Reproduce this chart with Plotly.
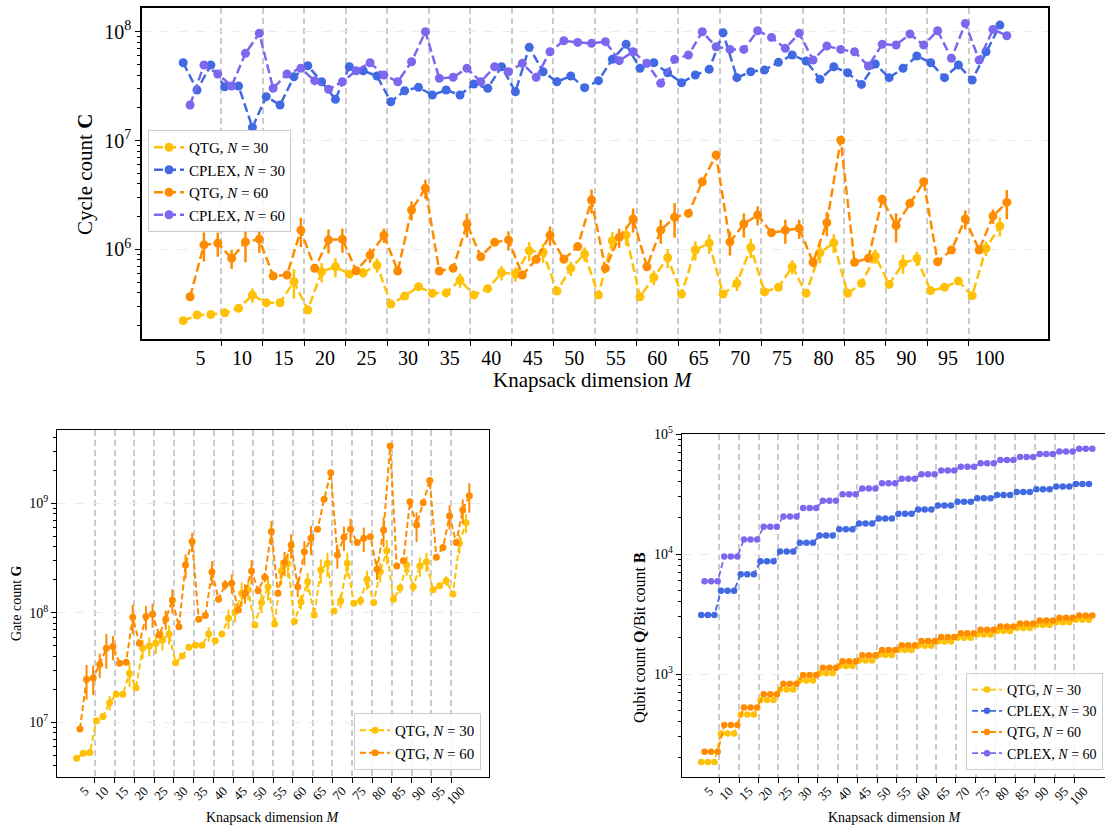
import plotly.graph_objects as go

# ---------------- data ----------------
M_labels = [5, 10, 15, 20, 25, 30, 35, 40, 45, 50, 55, 60, 65, 70, 75, 80, 85, 90, 95, 100]
instances_per_M = 3

cycle_qtg30 = [2.21e5, 2.49e5, 2.52e5, 2.61e5, 2.87e5, 3.80e5, 3.23e5, 3.23e5, 5.04e5, 2.77e5,
               6.22e5, 6.92e5, 5.93e5, 6.09e5, 7.17e5, 3.14e5, 3.72e5, 4.54e5, 3.94e5, 3.98e5,
               5.22e5, 3.80e5, 4.35e5, 6.09e5, 5.93e5, 9.70e5, 9.40e5, 4.14e5, 6.69e5, 9.04e5,
               3.80e5, 1.20e6, 1.35e6, 3.67e5, 5.53e5, 8.37e5, 3.88e5, 9.86e5, 1.14e6, 3.88e5,
               4.87e5, 1.04e6, 4.06e5, 4.48e5, 6.92e5, 3.94e5, 9.30e5, 1.15e6, 3.94e5, 4.87e5,
               8.67e5, 4.76e5, 7.43e5, 8.25e5, 4.17e5, 4.48e5, 5.11e5, 3.75e5, 1.02e6, 1.64e6]
cycle_qtg30_err = [0.03, 0.03, 0.03, 0.03, 0.03, 0.15, 0.03, 0.03, 0.30, 0.03,
                   0.20, 0.20, 0.05, 0.10, 0.15, 0.03, 0.05, 0.05, 0.05, 0.03,
                   0.15, 0.03, 0.05, 0.15, 0.15, 0.20, 0.20, 0.03, 0.15, 0.15,
                   0.03, 0.20, 0.20, 0.03, 0.15, 0.20, 0.03, 0.20, 0.20, 0.03,
                   0.15, 0.20, 0.03, 0.05, 0.15, 0.03, 0.20, 0.20, 0.03, 0.05,
                   0.15, 0.05, 0.20, 0.15, 0.03, 0.05, 0.05, 0.03, 0.15, 0.20]
cycle_cplex30 = [5.19e7, 2.91e7, 4.94e7, 3.12e7, 3.17e7, 1.32e7, 2.53e7, 2.12e7, 3.86e7, 4.87e7,
                 3.47e7, 2.39e7, 4.77e7, 4.38e7, 3.92e7, 2.27e7, 2.87e7, 3.08e7, 2.62e7, 2.91e7,
                 2.62e7, 3.31e7, 3.02e7, 4.77e7, 2.81e7, 7.19e7, 4.29e7, 3.47e7, 3.92e7, 3.06e7,
                 3.55e7, 5.57e7, 7.66e7, 4.61e7, 5.19e7, 4.20e7, 3.40e7, 4.00e7, 4.51e7, 9.79e7,
                 3.78e7, 4.29e7, 4.45e7, 5.23e7, 6.11e7, 5.38e7, 3.65e7, 4.77e7, 4.20e7, 3.28e7,
                 5.05e7, 3.78e7, 4.61e7, 5.98e7, 5.19e7, 3.78e7, 4.94e7, 3.60e7, 6.55e7, 1.15e8]
cycle_qtg60 = [3.67e5, 1.10e6, 1.14e6, 8.26e5, 1.17e6, 1.24e6, 5.69e5, 5.81e5, 1.50e6, 6.69e5,
               1.22e6, 1.24e6, 6.36e5, 8.85e5, 1.35e6, 6.32e5, 2.30e6, 3.64e6, 6.32e5, 6.69e5,
               1.71e6, 8.55e5, 1.16e6, 1.22e6, 5.81e5, 8.09e5, 1.35e6, 8.09e5, 1.06e6, 2.84e6,
               6.69e5, 1.29e6, 1.90e6, 6.92e5, 1.50e6, 1.97e6, 2.14e6, 4.18e6, 7.36e6, 1.17e6,
               1.71e6, 2.07e6, 1.42e6, 1.50e6, 1.56e6, 7.59e5, 1.76e6, 1.01e7, 7.59e5, 8.26e5,
               2.88e6, 1.65e6, 2.65e6, 4.18e6, 7.69e5, 9.86e5, 1.90e6, 9.86e5, 2.02e6, 2.70e6]
cycle_qtg60_err = [0.05, 0.30, 0.25, 0.20, 0.35, 0.25, 0.05, 0.05, 0.30, 0.05,
                   0.25, 0.25, 0.05, 0.15, 0.15, 0.05, 0.20, 0.20, 0.05, 0.05,
                   0.25, 0.05, 0.05, 0.20, 0.05, 0.05, 0.20, 0.05, 0.05, 0.25,
                   0.05, 0.20, 0.25, 0.05, 0.25, 0.35, 0.05, 0.05, 0.05, 0.25,
                   0.25, 0.20, 0.05, 0.25, 0.20, 0.10, 0.25, 0.05, 0.05, 0.05,
                   0.10, 0.30, 0.05, 0.05, 0.05, 0.05, 0.20, 0.05, 0.15, 0.30]
cycle_cplex60 = [2.12e7, 4.94e7, 4.09e7, 3.17e7, 6.33e7, 9.67e7, 3.02e7, 4.09e7, 4.61e7, 3.55e7,
                 2.96e7, 3.47e7, 4.38e7, 5.19e7, 4.00e7, 3.47e7, 5.30e7, 1.00e8, 3.73e7, 3.81e7,
                 4.61e7, 3.47e7, 4.77e7, 4.29e7, 5.12e7, 3.81e7, 6.55e7, 8.26e7, 7.98e7, 7.82e7,
                 8.10e7, 5.42e7, 6.55e7, 5.12e7, 3.36e7, 5.57e7, 6.11e7, 1.00e8, 7.28e7, 6.88e7,
                 6.88e7, 1.02e8, 8.87e7, 7.03e7, 9.67e7, 5.50e7, 7.39e7, 6.88e7, 6.55e7, 4.84e7,
                 7.66e7, 7.55e7, 9.52e7, 7.55e7, 1.02e8, 5.69e7, 1.19e8, 5.50e7, 1.05e8, 9.19e7]

gate_qtg30 = [4.69e6, 5.21e6, 5.28e6, 1.03e7, 1.13e7, 1.51e7, 1.80e7, 1.80e7, 2.80e7, 2.07e7,
              4.74e7, 4.98e7, 5.26e7, 5.64e7, 6.40e7, 3.50e7, 4.03e7, 4.84e7, 5.05e7, 5.05e7,
              6.40e7, 5.56e7, 6.40e7, 8.91e7, 1.02e8, 1.51e8, 1.62e8, 7.74e7, 1.24e8, 1.73e8,
              7.91e7, 2.40e8, 2.80e8, 8.30e7, 1.26e8, 1.92e8, 9.55e7, 2.46e8, 2.83e8, 1.04e8,
              1.29e8, 2.83e8, 1.22e8, 1.29e8, 2.02e8, 1.24e8, 2.37e8, 3.69e8, 1.33e8, 1.68e8,
              2.73e8, 1.73e8, 2.67e8, 2.93e8, 1.62e8, 1.76e8, 1.96e8, 1.48e8, 4.31e8, 6.65e8]
gate_qtg30_err = [0.03, 0.03, 0.03, 0.05, 0.05, 0.15, 0.05, 0.05, 0.25, 0.05,
                  0.20, 0.20, 0.20, 0.20, 0.20, 0.05, 0.05, 0.05, 0.05, 0.05,
                  0.15, 0.05, 0.05, 0.20, 0.20, 0.25, 0.20, 0.05, 0.20, 0.25,
                  0.05, 0.25, 0.25, 0.05, 0.15, 0.20, 0.05, 0.25, 0.25, 0.05,
                  0.15, 0.25, 0.05, 0.10, 0.20, 0.05, 0.20, 0.25, 0.05, 0.10,
                  0.20, 0.10, 0.20, 0.20, 0.05, 0.05, 0.10, 0.05, 0.20, 0.20]
gate_qtg60 = [8.69e6, 2.47e7, 2.53e7, 3.39e7, 4.74e7, 4.91e7, 3.46e7, 3.53e7, 9.10e7, 5.26e7,
              9.22e7, 9.68e7, 6.27e7, 8.73e7, 1.31e8, 7.46e7, 2.73e8, 4.47e8, 8.73e7, 9.42e7,
              2.37e8, 1.33e8, 1.80e8, 1.86e8, 1.06e8, 1.51e8, 2.41e8, 1.59e8, 2.11e8, 5.51e8,
              1.51e8, 2.87e8, 4.16e8, 1.73e8, 3.61e8, 4.79e8, 5.78e8, 1.09e9, 1.90e9, 3.37e8,
              4.89e8, 5.78e8, 4.37e8, 4.79e8, 4.95e8, 2.49e8, 5.70e8, 3.34e9, 2.67e8, 2.99e8,
              1.03e9, 6.34e8, 1.01e9, 1.61e9, 3.21e8, 3.94e8, 7.66e8, 4.37e8, 8.68e8, 1.17e9]
gate_qtg60_err = [0.05, 0.35, 0.30, 0.25, 0.35, 0.25, 0.05, 0.05, 0.30, 0.05,
                  0.25, 0.25, 0.05, 0.20, 0.25, 0.05, 0.25, 0.20, 0.05, 0.05,
                  0.25, 0.05, 0.10, 0.20, 0.05, 0.20, 0.25, 0.05, 0.10, 0.25,
                  0.05, 0.25, 0.25, 0.20, 0.25, 0.30, 0.05, 0.05, 0.05, 0.25,
                  0.25, 0.25, 0.05, 0.25, 0.05, 0.20, 0.30, 0.05, 0.05, 0.05,
                  0.05, 0.30, 0.05, 0.05, 0.05, 0.05, 0.25, 0.05, 0.25, 0.30]

# qubit / bit counts per knapsack dimension (same for the 3 instances of each M)
qubits_qtg30 = [185, 320, 461, 607, 745, 885, 1015, 1165, 1300, 1445,
                1585, 1725, 1865, 2005, 2140, 2285, 2425, 2565, 2705, 2840]
bits_cplex30 = [3100, 4950, 6800, 8700, 10500, 12400, 14300, 16100, 18000, 19800,
                21700, 23500, 25400, 27300, 29100, 31000, 32900, 34700, 36600, 38400]
qubits_qtg60 = [225, 376, 527, 680, 830, 980, 1130, 1280, 1435, 1585,
                1735, 1885, 2035, 2190, 2340, 2490, 2640, 2790, 2940, 3080]
bits_cplex60 = [5920, 9560, 13200, 16900, 20500, 24200, 27800, 31500, 35100, 38800,
                42400, 46100, 49700, 53400, 57000, 60700, 64300, 68000, 71600, 75200]

# ---------------- helpers ----------------
nM = len(M_labels)
x30 = [instances_per_M * g + j for g in range(nM) for j in range(instances_per_M)]
x60 = [v + 0.5 for v in x30]
label_pos = [instances_per_M * g + 1.25 for g in range(nM)]
bound_pos = [instances_per_M * g + 2.75 for g in range(nM - 1)]
xrange_ = [-2.975, 62.475]

def per_instance(vals):
    return [v for v in vals for _ in range(instances_per_M)]

YEL = '#FFC107'
BLU = '#4169E1'
ORA = '#FF8C00'
PUR = '#7B68EE'
FONT = 'Liberation Serif'
W, H = 1105, 828

fig = go.Figure()

def add(x, y, color, name, xa, ya, legend, err=None, msize=9, lw=2.5, dash='9px,4px'):
    kw = {}
    if err is not None:
        kw['error_y'] = dict(type='data', array=[v * e for v, e in zip(y, err)], symmetric=True,
                             visible=True, color=color, thickness=lw, width=0)
    fig.add_trace(go.Scatter(x=x, y=y, mode='lines+markers', name=name,
                             line=dict(color=color, width=lw, dash=dash),
                             marker=dict(color=color, size=msize),
                             xaxis=xa, yaxis=ya, legend=legend, **kw))

# top panel
add(x30, cycle_qtg30, YEL, 'QTG, <i>N</i> = 30', 'x', 'y', 'legend', cycle_qtg30_err)
add(x30, cycle_cplex30, BLU, 'CPLEX, <i>N</i> = 30', 'x', 'y', 'legend')
add(x60, cycle_qtg60, ORA, 'QTG, <i>N</i> = 60', 'x', 'y', 'legend', cycle_qtg60_err)
add(x60, cycle_cplex60, PUR, 'CPLEX, <i>N</i> = 60', 'x', 'y', 'legend')

# bottom-left
add(x30, gate_qtg30, YEL, 'QTG, <i>N</i> = 30', 'x2', 'y2', 'legend2', gate_qtg30_err, msize=7, lw=2, dash='6px,3px')
add(x60, gate_qtg60, ORA, 'QTG, <i>N</i> = 60', 'x2', 'y2', 'legend2', gate_qtg60_err, msize=7, lw=2, dash='6px,3px')

# bottom-right
add(x30, per_instance(qubits_qtg30), YEL, 'QTG, <i>N</i> = 30', 'x3', 'y3', 'legend3', msize=6.5, lw=1.8, dash='6px,3px')
add(x30, per_instance(bits_cplex30), BLU, 'CPLEX, <i>N</i> = 30', 'x3', 'y3', 'legend3', msize=6.5, lw=1.8, dash='6px,3px')
add(x60, per_instance(qubits_qtg60), ORA, 'QTG, <i>N</i> = 60', 'x3', 'y3', 'legend3', msize=6.5, lw=1.8, dash='6px,3px')
add(x60, per_instance(bits_cplex60), PUR, 'CPLEX, <i>N</i> = 60', 'x3', 'y3', 'legend3', msize=6.5, lw=1.8, dash='6px,3px')


def xaxis(domain, anchor, fsize, angle, lw, rng):
    return dict(domain=domain, anchor=anchor, range=rng, tickmode='array', automargin=False,
                tickvals=label_pos, ticktext=[str(m) for m in M_labels], ticks='',
                tickangle=angle, tickfont=dict(family=FONT, size=fsize, color='black'),
                showgrid=False, zeroline=False, showline=True, linecolor='black', linewidth=lw,
                mirror=True,
                minor=dict(tickmode='array', tickvals=bound_pos, ticks='outside', ticklen=5,
                           tickwidth=1.2, tickcolor='black', showgrid=True,
                           gridcolor='#cbcbcb', griddash='6px,4px', gridwidth=2.4))


def minor_log(e0, e1):
    return [k * 10 ** e for e in range(e0, e1) for k in range(2, 10)]


def yaxis(domain, anchor, rng, majors, fsize, lw, mirror=True):
    return dict(domain=domain, anchor=anchor, type='log', range=rng, tickmode='array',
                automargin=False,
                tickvals=[10 ** e for e in majors],
                ticktext=['10<sup>%d</sup>' % e for e in majors],
                ticks='outside', ticklen=5, tickwidth=1.2, tickcolor='black',
                tickfont=dict(family=FONT, size=fsize, color='black'),
                showgrid=True, gridcolor='#ececec', griddash='dash', gridwidth=1,
                zeroline=False, showline=True, linecolor='black', linewidth=lw, mirror=mirror,
                minor=dict(tickmode='array', tickvals=minor_log(int(rng[0]) - 1, int(rng[1]) + 1),
                           ticks='outside', ticklen=3, tickwidth=1, tickcolor='black',
                           showgrid=False))


fig.update_layout(
    width=W, height=828, margin=dict(l=0, r=0, t=0, b=0, autoexpand=False),
    paper_bgcolor='white', plot_bgcolor='white',
    font=dict(family=FONT, color='black'),
    xaxis=xaxis([142 / W, 1048 / W], 'y', 20, 0, 1.6, xrange_),
    yaxis=yaxis([1 - 339 / H, 1 - 8 / H], 'x', [5.176, 8.218], [6, 7, 8], 20, 1.6),
    xaxis2=xaxis([57 / W, 489 / W], 'y2', 13, -45, 1.2, xrange_),
    yaxis2=yaxis([1 - 777 / H, 1 - 430 / H], 'x2', [6.5, 9.669], [7, 8, 9], 14, 1.2),
    xaxis3=xaxis([681.7 / W, 1.0], 'y3', 13, -45, 1.2, [-2.975, 61.43]),
    yaxis3=yaxis([1 - 777.3 / H, 1 - 434 / H], 'x3', [2.14, 5.0], [3, 4, 5], 14, 1.2, mirror=False),
    legend=dict(x=148 / W, y=1 - 130 / H, xanchor='left', yanchor='top',
                font=dict(family=FONT, size=15, color='black'), bgcolor='rgba(255,255,255,0.85)',
                bordercolor='#cccccc', borderwidth=1, itemwidth=30, tracegroupgap=0),
    legend2=dict(x=481 / W, y=1 - 770 / H, xanchor='right', yanchor='bottom',
                 font=dict(family=FONT, size=15, color='black'), bgcolor='rgba(255,255,255,0.85)',
                 bordercolor='#cccccc', borderwidth=1, itemwidth=30),
    legend3=dict(x=1103 / W, y=1 - 770 / H, xanchor='right', yanchor='bottom',
                 font=dict(family=FONT, size=14, color='black'), bgcolor='rgba(255,255,255,0.85)',
                 bordercolor='#cccccc', borderwidth=1, itemwidth=30),
    showlegend=True,
)

ann = [
    dict(text='Cycle count <b>C</b>', x=85 / W, y=1 - 175 / H, textangle=-90, size=21),
    dict(text='Knapsack dimension <i>M</i>', x=593 / W, y=1 - 380 / H, textangle=0, size=21),
    dict(text='Gate count <b>G</b>', x=16 / W, y=1 - 603 / H, textangle=-90, size=14),
    dict(text='Knapsack dimension <i>M</i>', x=273 / W, y=1 - 817 / H, textangle=0, size=14),
    dict(text='Qubit count <b>Q</b>/Bit count <b>B</b>', x=639 / W, y=1 - 638 / H, textangle=-90, size=16),
    dict(text='Knapsack dimension <i>M</i>', x=895 / W, y=1 - 817 / H, textangle=0, size=14),
]
for a in ann:
    fig.add_annotation(text=a['text'], x=a['x'], y=a['y'], xref='paper', yref='paper',
                       showarrow=False, textangle=a['textangle'],
                       font=dict(family=FONT, size=a['size'], color='black'),
                       xanchor='center', yanchor='middle')

fig.write_html('out.html')
